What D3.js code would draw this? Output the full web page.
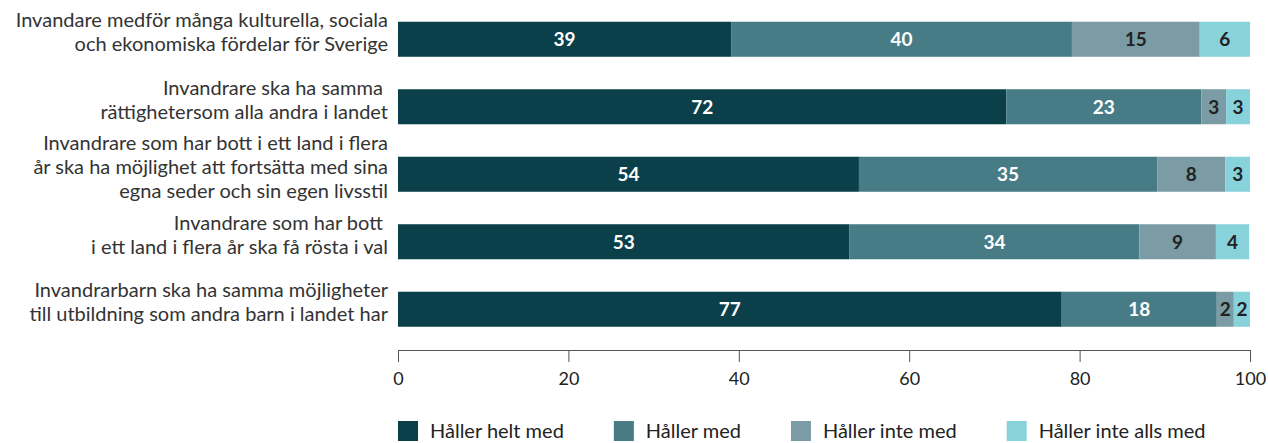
<!DOCTYPE html>
<html>
<head>
<meta charset="utf-8">
<script src="https://cdn.jsdelivr.net/npm/d3@7"></script>
<style>
  body { margin: 0; background: #fff; }
  svg { display: block; font-family: Lato, "Noto Sans", sans-serif; }
</style>
</head>
<body>
<svg id="chart" width="1268" height="443"></svg>
<script>
// ---- data ----
const categories = [
  ["Invandare medför många kulturella, sociala", "och ekonomiska fördelar för Sverige"],
  ["Invandrare ska ha samma ", "rättighetersom alla andra i landet"],
  ["Invandrare som har bott i ett land i flera", "år ska ha möjlighet att fortsätta med sina", "egna seder och sin egen livsstil"],
  ["Invandrare som har bott ", "i ett land i flera år ska få rösta i val"],
  ["Invandrarbarn ska ha samma möjligheter", "till utbildning som andra barn i landet har"]
];
const seriesNames = ["Håller helt med", "Håller med", "Håller inte med", "Håller inte alls med"];
const helt   = [39.1, 71.4, 54.1, 53.0, 77.9];
const med    = [40.0, 22.9, 35.0, 34.0, 18.2];
const inte   = [15.0, 2.9, 8.0, 9.0, 2.0];
const alls   = [5.9, 2.8, 2.9, 3.9, 1.9];
const heltLabels = ["39", "72", "54", "53", "77"];
const medLabels  = ["40", "23", "35", "34", "18"];
const inteLabels = ["15", "3", "8", "9", "2"];
const allsLabels = ["6", "3", "3", "4", "2"];
const tickValues = [0, 20, 40, 60, 80, 100];
const colors = ["#0b404a", "#477c86", "#7c9ca5", "#88d2dc"];
const labelColors = ["#ffffff", "#ffffff", "#222222", "#222222"];

// ---- build ----
const seriesVals = [helt, med, inte, alls];
const seriesLabels = [heltLabels, medLabels, inteLabels, allsLabels];
const rows = categories.map((c, i) => {
  const r = { idx: i };
  seriesNames.forEach((s, j) => { r[s] = seriesVals[j][i]; });
  return r;
});
const stacked = d3.stack().keys(seriesNames)(rows);

const svg = d3.select("#chart");
const x = d3.scaleLinear().domain([0, 100]).range([398, 1250]);
const y = d3.scaleBand().domain(d3.range(categories.length))
  .range([5.5, 343.0]).paddingInner(0.481).paddingOuter(0.2405);

const layers = svg.append("g").selectAll("g").data(stacked).join("g")
  .attr("fill", (d, j) => colors[j]);
layers.selectAll("rect").data(d => d).join("rect")
  .attr("x", d => x(d[0]))
  .attr("y", (d, i) => y(i))
  .attr("width", d => x(d[1]) - x(d[0]))
  .attr("height", y.bandwidth());

const lab = svg.append("g").selectAll("g").data(stacked).join("g");
lab.each(function(layer, j) {
  d3.select(this).selectAll("text").data(layer).join("text")
    .attr("x", d => (x(d[0]) + x(d[1])) / 2)
    .attr("y", (d, i) => y(i) + y.bandwidth() / 2)
    .attr("dy", "0.36em")
    .attr("text-anchor", "middle")
    .attr("font-size", 19)
    .attr("font-weight", "bold")
    .attr("fill", labelColors[j])
    .text((d, i) => seriesLabels[j][i]);
});

// category labels
const lineH = 24;
const catG = svg.append("g");
categories.forEach((lines, i) => {
  const cy = y(i) + y.bandwidth() / 2;
  const t = catG.append("text")
    .attr("text-anchor", "end")
    .attr("font-size", 20)
    .attr("fill", "#333");
  lines.forEach((ln, k) => {
    t.append("tspan")
      .attr("x", 388)
      .attr("y", cy + (k - (lines.length - 1) / 2) * lineH)
      .style("white-space", "pre")
      .text(ln);
  });
});

// axis
const axis = svg.append("g").attr("transform", "translate(0,350)")
  .call(d3.axisBottom(x).tickValues(tickValues).tickSize(12).tickSizeOuter(0).tickPadding(10));
axis.select(".domain").attr("stroke", "#555");
axis.selectAll(".tick line").attr("stroke", "#555");
axis.selectAll(".tick text").attr("font-size", 18).attr("fill", "#222")
  .attr("font-family", "Lato, 'Noto Sans', sans-serif");

// legend
const leg = svg.append("g").attr("transform", "translate(398,421)");
let lx = 0;
seriesNames.forEach((s, j) => {
  const g = leg.append("g").attr("transform", `translate(${lx},0)`);
  g.append("rect").attr("width", 20).attr("height", 20).attr("fill", colors[j]);
  const t = g.append("text").attr("x", 32).attr("y", 10).attr("dy", "0.36em")
    .attr("font-size", 20).attr("fill", "#222").text(s);
  lx += 32 + t.node().getComputedTextLength() + 50;
});
</script>
</body>
</html>
